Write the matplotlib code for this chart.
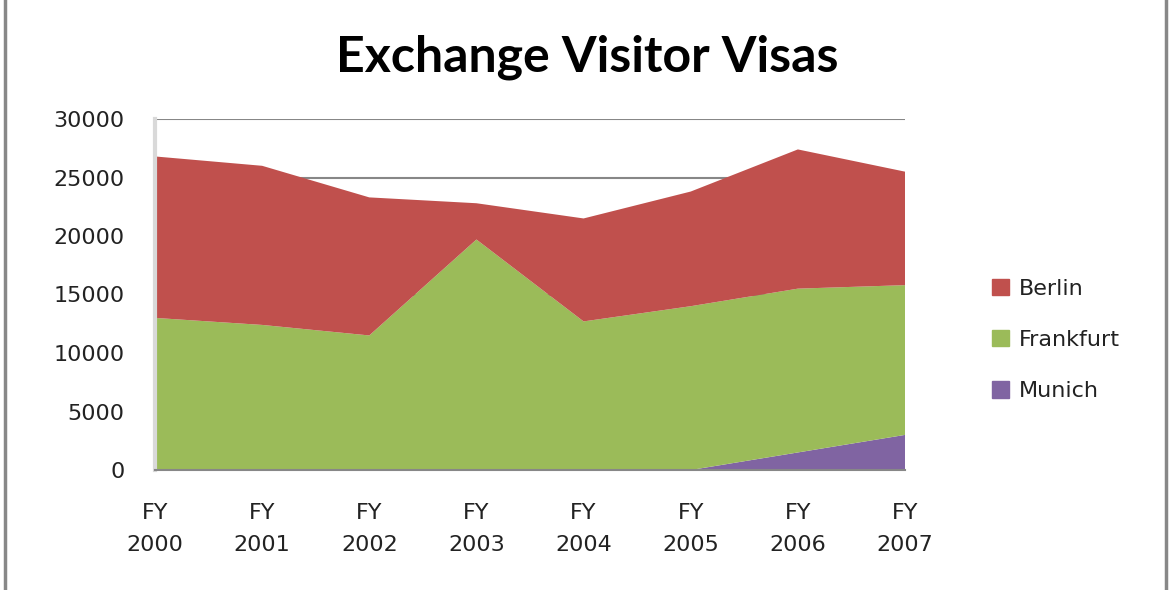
import matplotlib
matplotlib.use("Agg")
import matplotlib.pyplot as plt
from matplotlib.patches import Patch
from matplotlib.lines import Line2D

years = ["FY\n2000", "FY\n2001", "FY\n2002", "FY\n2003", "FY\n2004", "FY\n2005", "FY\n2006", "FY\n2007"]
munich = [0, 0, 0, 0, 0, 0, 1500, 3000]
frankfurt = [13000, 12400, 11500, 19700, 12700, 14000, 14000, 12800]
berlin = [13800, 13600, 11800, 3100, 8800, 9800, 11900, 9700]

colors = {"Berlin": "#C0504D", "Frankfurt": "#9BBB59", "Munich": "#8064A2"}

fig = plt.figure(figsize=(11.7, 5.9), dpi=100)
ax = fig.add_axes([155/1170, 120/590, 750/1170, 351/590])

x = list(range(len(years)))
ax.stackplot(x, munich, frankfurt, berlin,
             colors=[colors["Munich"], colors["Frankfurt"], colors["Berlin"]],
             linewidth=0, zorder=2)

ax.set_xlim(0, len(years) - 1)
ax.set_ylim(0, 30000)
ax.set_yticks(range(0, 30001, 5000))
ax.yaxis.grid(True, color="#878787", linewidth=1.5, zorder=0)
ax.set_axisbelow(True)
ax.set_xticks(x)
ax.set_xticklabels(years, linespacing=1.75)
ax.tick_params(axis="both", length=0, labelsize=16, labelcolor="#222222")
ax.tick_params(axis="y", pad=22)
ax.tick_params(axis="x", pad=24)
for lab in ax.get_xticklabels() + ax.get_yticklabels():
    lab.set_fontfamily("DejaVu Sans")

for s in ["top", "right"]:
    ax.spines[s].set_visible(False)
ax.spines["left"].set_color("#D9D9D9")
ax.spines["left"].set_linewidth(3)
ax.spines["bottom"].set_color("#878787")
ax.spines["bottom"].set_linewidth(1.5)
ax.spines["bottom"].set_zorder(3)

fig.text(587/1170, 1 - 57/590, "Exchange Visitor Visas", ha="center", va="center",
         fontsize=36, fontweight="bold", family="Lato", color="black")

handles = [Patch(color=colors[n]) for n in ["Berlin", "Frankfurt", "Munich"]]
fig.legend(handles, ["Berlin", "Frankfurt", "Munich"], loc="center left",
           bbox_to_anchor=(972/1170, 1 - 340/590), frameon=False,
           prop={"family": "DejaVu Sans", "size": 16}, labelcolor="#222222",
           handlelength=0.75, handleheight=0.75, handletextpad=0.45, labelspacing=1.4)

fig.add_artist(Line2D([5/1170, 5/1170], [0, 1], color="#888888", linewidth=2.5))
fig.add_artist(Line2D([1166/1170, 1166/1170], [0, 1], color="#888888", linewidth=2.5))

fig.savefig("out.png", dpi=100, facecolor="white")
